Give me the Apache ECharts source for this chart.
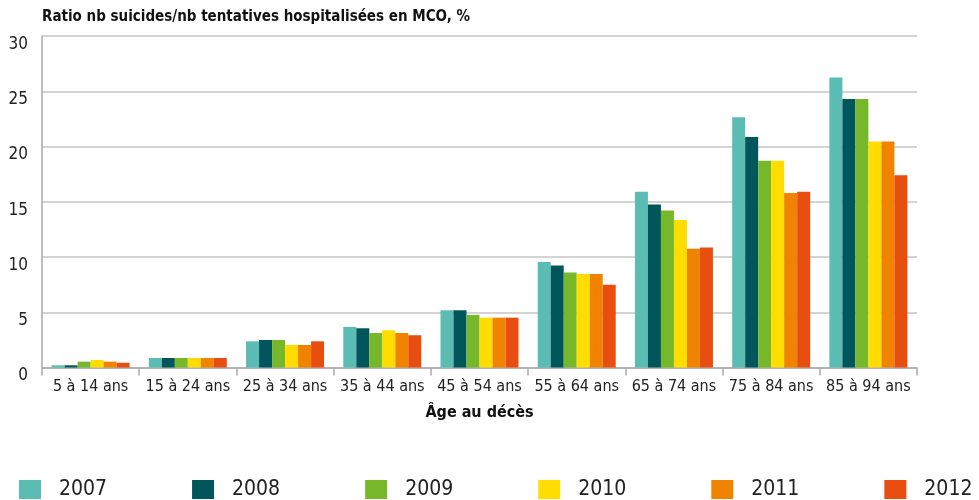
<!DOCTYPE html>
<html>
<head>
<meta charset="utf-8">
<script src="https://cdn.jsdelivr.net/npm/echarts@6/dist/echarts.min.js"></script>
<style>
  html, body { margin: 0; padding: 0; background: #fff; }
  #chart { width: 979px; height: 500px; }
</style>
</head>
<body>
<div id="chart"></div>
<script>
// age groups
const ages = ['5 à 14 ans', '15 à 24 ans', '25 à 34 ans', '35 à 44 ans', '45 à 54 ans',
    '55 à 64 ans', '65 à 74 ans', '75 à 84 ans', '85 à 94 ans'];
const years = ['2007', '2008', '2009', '2010', '2011', '2012'];
const colors = ['#5bbcb4', '#00565a', '#76b82a', '#ffdd00', '#f08300', '#e84e10'];
// ratio per year, one value per age group
const v2007 = [0.2, 0.86, 2.37, 3.67, 5.18, 9.55, 15.9, 22.65, 26.25];
const v2008 = [0.2, 0.86, 2.49, 3.55, 5.18, 9.22, 14.75, 20.85, 24.3];
const v2009 = [0.53, 0.86, 2.49, 3.12, 4.76, 8.6, 14.2, 18.7, 24.3];
const v2010 = [0.68, 0.86, 2.04, 3.37, 4.51, 8.47, 13.35, 18.7, 20.45];
const v2011 = [0.53, 0.86, 2.04, 3.12, 4.51, 8.47, 10.75, 15.8, 20.45];
const v2012 = [0.43, 0.86, 2.37, 2.92, 4.51, 7.5, 10.85, 15.9, 17.4];
const values = [v2007, v2008, v2009, v2010, v2011, v2012];

const font = '"DejaVu Sans Condensed", "Liberation Sans", sans-serif';

var mychart = echarts.init(document.getElementById('chart'));
option = {
    backgroundColor: '#ffffff',
    animation: false,
    color: colors,
    title: {
        text: 'Ratio nb suicides/nb tentatives hospitalisées en MCO, %',
        left: 42,
        top: 10,
        padding: 0,
        textStyle: {
            fontFamily: font,
            fontSize: 15,
            fontWeight: 'bold',
            color: '#111'
        }
    },
    grid: {
        left: 42,
        right: 62,
        top: 36,
        bottom: 132.5,
        containLabel: false
    },
    legend: {
        data: years,
        left: 14,
        top: 474,
        width: 975,
        icon: 'rect',
        itemWidth: 22,
        itemHeight: 19,
        itemGap: 85,
        textStyle: {
            fontFamily: font,
            fontSize: 21,
            color: '#222',
            padding: [0, 0, 0, 13]
        }
    },
    xAxis: {
        type: 'category',
        data: ages,
        name: 'Âge au décès',
        nameLocation: 'middle',
        nameGap: 37,
        nameTextStyle: {
            fontFamily: font,
            fontSize: 16,
            fontWeight: 'bold',
            color: '#111'
        },
        axisLine: { lineStyle: { color: '#aaa', width: 1.5 } },
        axisTick: { show: true, length: 8, lineStyle: { color: '#aaa', width: 1.5 } },
        axisLabel: {
            interval: 0,
            fontFamily: font,
            fontSize: 16,
            color: '#222',
            margin: 11
        }
    },
    yAxis: {
        type: 'value',
        min: 0,
        max: 30,
        interval: 5,
        axisLine: { show: true, lineStyle: { color: '#aaa', width: 1.5 } },
        axisTick: { show: false },
        splitLine: { lineStyle: { color: '#c4c4c4', width: 1.5 } },
        axisLabel: {
            fontFamily: font,
            fontSize: 17,
            color: '#222',
            margin: 14,
            verticalAlign: 'top'
        }
    },
    series: years.map(function (y, i) {
        return {
            name: y,
            type: 'bar',
            data: values[i],
            barWidth: 13,
            barGap: '0%'
        };
    })
};
mychart.setOption(option, true);
</script>
</body>
</html>
